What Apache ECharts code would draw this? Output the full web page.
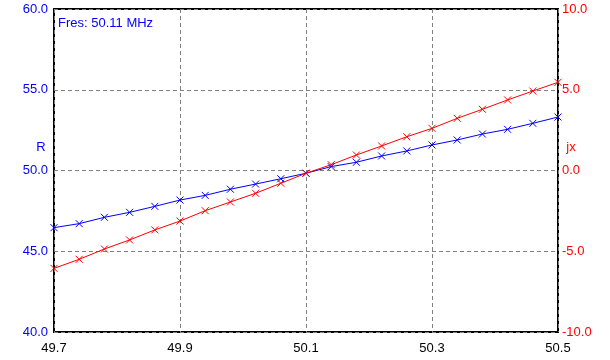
<!DOCTYPE html>
<html>
<head>
<meta charset="utf-8">
<script src="https://cdn.jsdelivr.net/npm/echarts@6/dist/echarts.min.js"></script>
<style>
html,body{margin:0;padding:0;background:#fff;}
#c{width:610px;height:360px;}
</style>
</head>
<body>
<div id="c"></div>
<script>
var freqs = ['49.70','49.74','49.78','49.82','49.86','49.90','49.94','49.98','50.02','50.06','50.10','50.14','50.18','50.22','50.26','50.30','50.34','50.38','50.42','50.46','50.50'];
var rValues = [46.46, 46.71, 47.10, 47.41, 47.78, 48.17, 48.46, 48.84, 49.16, 49.49, 49.83, 50.24, 50.51, 50.90, 51.21, 51.58, 51.89, 52.26, 52.55, 52.92, 53.31];
var jxValues = [-6.06, -5.50, -4.86, -4.30, -3.68, -3.13, -2.49, -1.95, -1.41, -0.79, -0.17, 0.36, 0.96, 1.52, 2.09, 2.61, 3.23, 3.79, 4.37, 4.92, 5.46];
var leftTicks = {min: 40, max: 60, interval: 5};
var rightTicks = {min: -10, max: 10, interval: 5};
var fresText = 'Fres: 50.11 MHz';

var FONT = '"Liberation Sans", Arial, sans-serif';
var cross = 'path://M0,0L10,10M10,0L0,10';
var chart = echarts.init(document.getElementById('c'), null, {renderer: 'canvas'});
chart.setOption({
  animation: false,
  backgroundColor: '#fff',
  grid: {left: 54, right: 52, top: 9, bottom: 28, show: true, borderColor: '#000', borderWidth: 2, backgroundColor: 'transparent'},
  xAxis: {
    type: 'category', data: freqs, boundaryGap: false,
    axisLine: {show: false}, axisTick: {show: false},
    axisLabel: {interval: 4, color: '#000', fontFamily: FONT, fontSize: 13, margin: 10,
      formatter: function(v){ return parseFloat(v).toFixed(1); }},
    splitLine: {show: true, interval: 4, lineStyle: {color: '#808080', type: [4, 3], width: 1}}
  },
  yAxis: [{
    type: 'value', min: leftTicks.min, max: leftTicks.max, interval: leftTicks.interval,
    axisLine: {show: false}, axisTick: {show: false},
    axisLabel: {color: '#0000ff', fontFamily: FONT, fontSize: 13, margin: 6,
      formatter: function(v){ return v.toFixed(1); }},
    splitLine: {show: true, lineStyle: {color: '#808080', type: [4, 3], width: 1}}
  }, {
    type: 'value', position: 'right', min: rightTicks.min, max: rightTicks.max, interval: rightTicks.interval,
    axisLine: {show: false}, axisTick: {show: false},
    axisLabel: {color: '#ff0000', fontFamily: FONT, fontSize: 13, margin: 4,
      formatter: function(v){ return v.toFixed(1); }},
    splitLine: {show: false}
  }],
  series: [{
    type: 'line', data: rValues, yAxisIndex: 0,
    symbol: cross, symbolSize: 7, showSymbol: true,
    lineStyle: {color: '#0000ff', width: 1},
    itemStyle: {color: 'rgba(0,0,0,0)', borderColor: '#0000ff', borderWidth: 1}
  }, {
    type: 'line', data: jxValues, yAxisIndex: 1,
    symbol: cross, symbolSize: 7, showSymbol: true,
    lineStyle: {color: '#ff0000', width: 1},
    itemStyle: {color: 'rgba(0,0,0,0)', borderColor: '#ff0000', borderWidth: 1}
  }],
  graphic: [
    {type: 'text', left: 58, top: 17, style: {text: fresText, fill: '#0000ff', font: '13px ' + FONT}},
    {type: 'text', x: 41, y: 147, style: {text: 'R', fill: '#0000ff', font: '13px ' + FONT, textAlign: 'center', textVerticalAlign: 'middle'}},
    {type: 'text', x: 571, y: 147, style: {text: 'jx', fill: '#ff0000', font: '13px ' + FONT, textAlign: 'center', textVerticalAlign: 'middle'}}
  ]
});
</script>
</body>
</html>
